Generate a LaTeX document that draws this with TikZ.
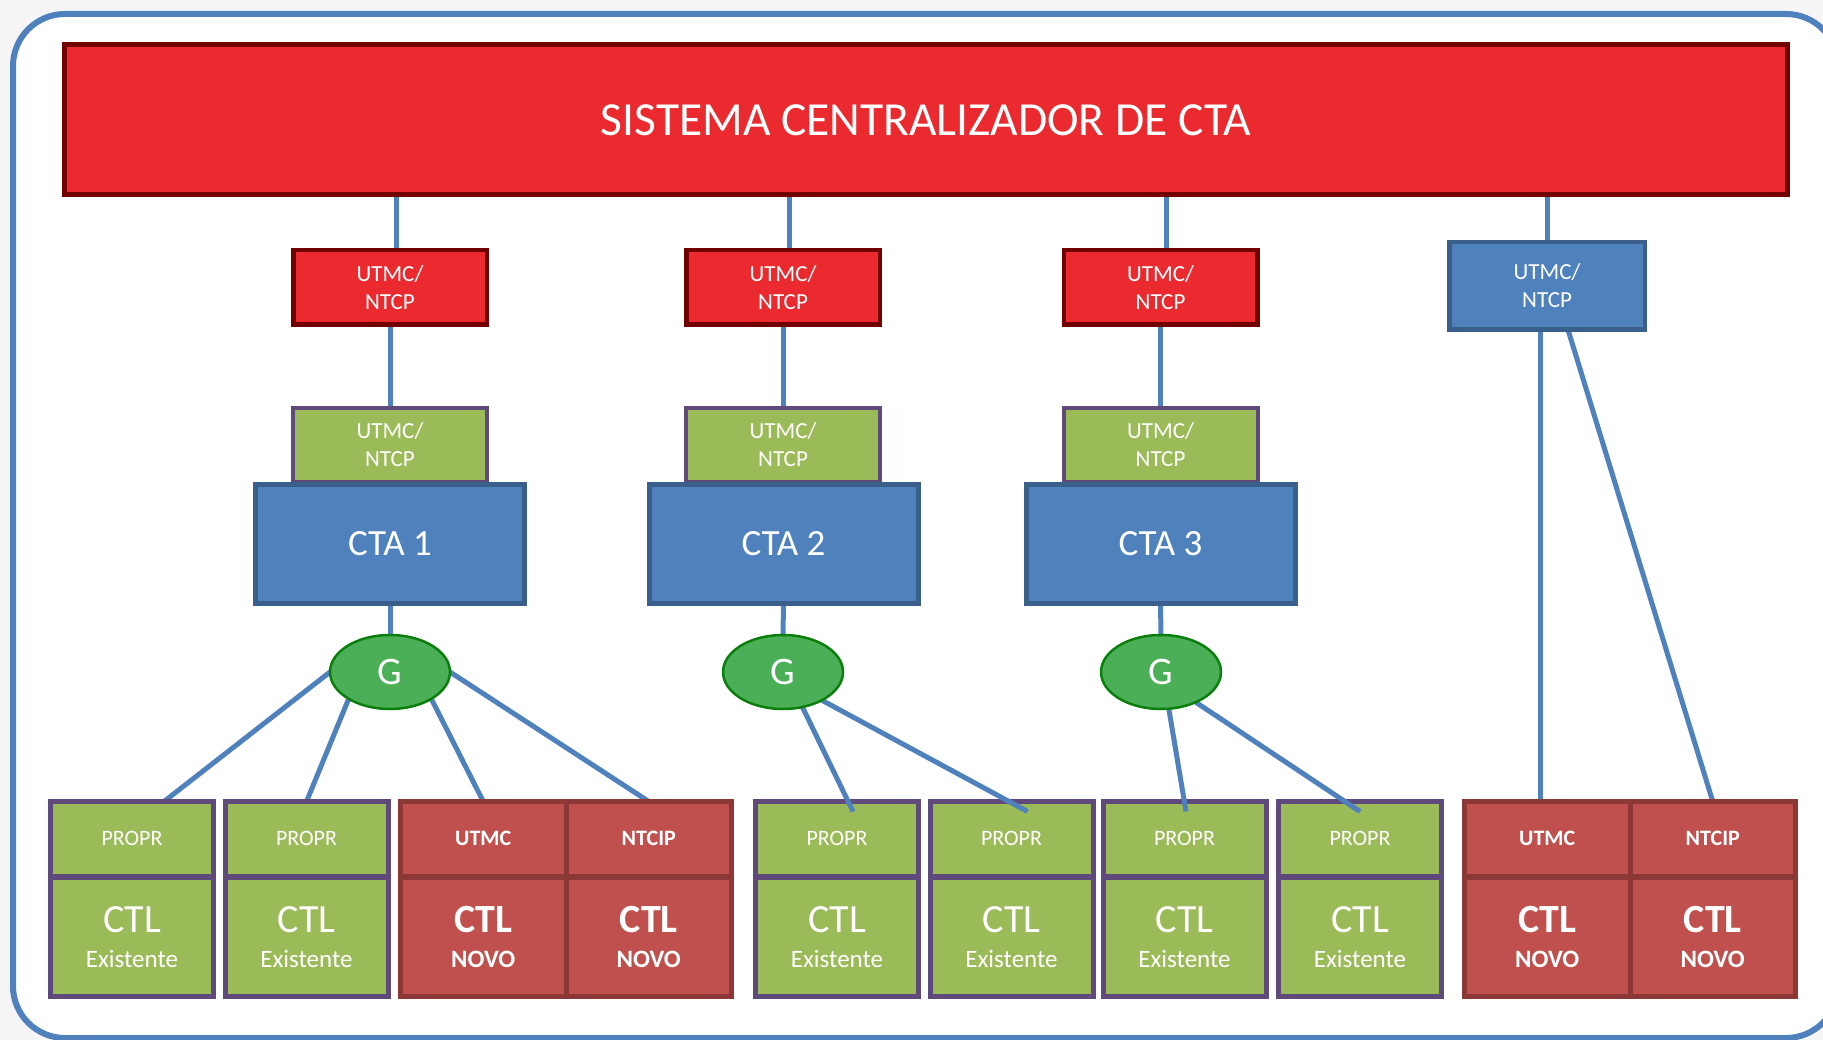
\documentclass[tikz,border=0pt]{standalone}
\usepackage{fontspec}
\setmainfont{Carlito}
\usetikzlibrary{shapes.geometric}
\definecolor{cTopRed}{HTML}{EA2A2F}
\definecolor{cTopRedD}{HTML}{720000}
\definecolor{cBlue}{HTML}{4F81BD}
\definecolor{cBlueD}{HTML}{3A5F8B}
\definecolor{cGreen}{HTML}{9BBB59}
\definecolor{cPurple}{HTML}{604A7B}
\definecolor{cRed}{HTML}{C0504D}
\definecolor{cRedD}{HTML}{8C3836}
\definecolor{cG}{HTML}{4BAF57}
\definecolor{cGD}{HTML}{0B7F0B}
\definecolor{cOut}{HTML}{F5F5F5}
\newcommand\myfs[2]{\fontsize{#1}{#2}\selectfont}
\pgfdeclarelayer{back}
\pgfdeclarelayer{bg}
\pgfdeclarelayer{front}
\pgfsetlayers{back,bg,main,front}
\begin{document}
\begin{tikzpicture}[x=1pt,y=-1pt,
  box/.style={draw, rectangle, inner sep=0pt, outer sep=0pt, text=white, align=center},
  topbox/.style={box, fill=cTopRed, draw=cTopRedD, line width=5pt, minimum width=1723pt, minimum height=150pt, font=\myfs{47.5}{56}},
  utmcR/.style={box, fill=cTopRed, draw=cTopRedD, line width=4.5pt, minimum width=193.5pt, minimum height=74.5pt, font=\myfs{23}{28}},
  utmcB/.style={box, fill=cBlue, draw=cBlueD, line width=4.5pt, minimum width=195.5pt, minimum height=87.5pt, font=\myfs{23}{28}},
  utmcG/.style={box, fill=cGreen, draw=cPurple, line width=4pt, minimum width=194pt, minimum height=74pt, font=\myfs{23}{28}},
  cta/.style={box, fill=cBlue, draw=cBlueD, line width=5pt, minimum width=269pt, minimum height=119pt, font=\myfs{37}{44}},
  gnode/.style={ellipse, draw=cGD, fill=cG, line width=2.5pt, minimum width=120pt, minimum height=74pt, inner sep=0pt, outer sep=0pt, text=white, font=\myfs{39}{44}},
  hdrG/.style={box, fill=cGreen, draw=cPurple, line width=5pt, minimum width=163pt, minimum height=74.5pt, font=\myfs{22}{26}},
  ctlG/.style={box, fill=cGreen, draw=cPurple, line width=5pt, minimum width=163pt, minimum height=119.5pt, font=\myfs{40}{35}},
  hdrR/.style={box, fill=cRed, draw=cRedD, line width=5pt, minimum width=165.5pt, minimum height=74.5pt, font=\myfs{22}{26}\bfseries},
  ctlR/.style={box, fill=cRed, draw=cRedD, line width=5pt, minimum width=165.5pt, minimum height=119.5pt, font=\myfs{40}{35}\bfseries},
  conn/.style={draw=cBlue, line width=5pt},
  frame/.style={draw=cBlue, line width=6pt, rounded corners=52pt, fill=white}
]
\useasboundingbox (0,0) rectangle (1823,1040);
\clip (0,0) rectangle (1823,1040);
\begin{pgfonlayer}{back}
\fill[cOut] (0,0) rectangle (1823,1040);
\path[frame] (13,14) rectangle (1838,1038);
\end{pgfonlayer}

% top system
\node[topbox] (top) at (926,120) {SISTEMA CENTRALIZADOR DE CTA};

% UTMC/NTCP interfaces
\node[utmcR] (u1) at (390,287.5) {UTMC/\\NTCP};
\node[utmcR] (u2) at (783,287.5) {UTMC/\\NTCP};
\node[utmcR] (u3) at (1160.5,287.5) {UTMC/\\NTCP};
\node[utmcB] (u4) at (1547,286) {UTMC/\\NTCP};

% green interface boxes and CTAs
\node[utmcG] (g1) at (390,445) {UTMC/\\NTCP};
\node[utmcG] (g2) at (783,445) {UTMC/\\NTCP};
\node[utmcG] (g3) at (1160.5,445) {UTMC/\\NTCP};
\node[cta] (cta1) at (390,544) {CTA 1};
\node[cta] (cta2) at (783.5,544) {CTA 2};
\node[cta] (cta3) at (1160.5,544) {CTA 3};

% G nodes
\begin{pgfonlayer}{front}
\node[gnode] (G1) at (390,672) {G};
\node[gnode] (G2) at (783,672) {G};
\node[gnode] (G3) at (1161,672) {G};
\end{pgfonlayer}

% bottom controllers
\node[hdrG] (c1t) at (132,838.75) {PROPR};
\node[ctlG] (c1b) at (132,937) {CTL\\{\myfs{25}{35}Existente}};
\node[hdrG] (c2t) at (306.5,838.75) {PROPR};
\node[ctlG] (c2b) at (306.5,937) {CTL\\{\myfs{25}{35}Existente}};
\node[hdrR] (r1at) at (483.25,838.75) {UTMC};
\node[ctlR] (r1ab) at (483.25,937) {CTL\\{\myfs{25}{35}\bfseries NOVO}};
\node[hdrR] (r1bt) at (648.75,838.75) {NTCIP};
\node[ctlR] (r1bb) at (648.75,937) {CTL\\{\myfs{25}{35}\bfseries NOVO}};

\node[hdrG] (c3t) at (837,838.75) {PROPR};
\node[ctlG] (c3b) at (837,937) {CTL\\{\myfs{25}{35}Existente}};
\node[hdrG] (c4t) at (1011.5,838.75) {PROPR};
\node[ctlG] (c4b) at (1011.5,937) {CTL\\{\myfs{25}{35}Existente}};

\node[hdrG] (c5t) at (1184.5,838.75) {PROPR};
\node[ctlG] (c5b) at (1184.5,937) {CTL\\{\myfs{25}{35}Existente}};
\node[hdrG] (c6t) at (1360,838.75) {PROPR};
\node[ctlG] (c6b) at (1360,937) {CTL\\{\myfs{25}{35}Existente}};

\node[hdrR] (r4at) at (1547.25,838.75) {UTMC};
\node[ctlR] (r4ab) at (1547.25,937) {CTL\\{\myfs{25}{35}\bfseries NOVO}};
\node[hdrR] (r4bt) at (1712.75,838.75) {NTCIP};
\node[ctlR] (r4bb) at (1712.75,937) {CTL\\{\myfs{25}{35}\bfseries NOVO}};

% helper coordinates
\coordinate (u1t) at ([xshift=6pt]u1.north);
\coordinate (u2t) at ([xshift=6pt]u2.north);
\coordinate (u3t) at ([xshift=6pt]u3.north);
\coordinate (u4l) at ([xshift=-7pt]u4.south);
\coordinate (u4r) at ([xshift=21pt]u4.south);

% connectors behind boxes
\begin{pgfonlayer}{bg}
\draw[conn] (u1t) -- (u1t |- top.south);
\draw[conn] (u2t) -- (u2t |- top.south);
\draw[conn] (u3t) -- (u3t |- top.south);
\draw[conn] (u4.north) -- (u4.north |- top.south);
\draw[conn] (u1.south) -- (g1.north);
\draw[conn] (u2.south) -- (g2.north);
\draw[conn] (u3.south) -- (g3.north);
\draw[conn] (cta1.south) -- (G1.north);
\draw[conn] (cta2.south) -- (G2.north);
\draw[conn] (cta3.south) -- (G3.north);
\draw[conn] (G1.west) -- ([xshift=32pt]c1t.north);
\draw[conn] (G1.213) -- (c2t.north);
\draw[conn] (G1.327) -- (r1at.north);
\draw[conn] (G1.east) -- (r1bt.north);
\draw[conn] (u4l) -- (u4l |- r4at.north);
\draw[conn] (u4r) -- (r4bt.north);
\end{pgfonlayer}

% connectors over the controller boxes
\draw[conn] (G2.299) -- ([xshift=16pt,yshift=-10pt]c3t.north);
\draw[conn] (G2.324) -- ([xshift=16pt,yshift=-10pt]c4t.north);
\draw[conn] (G3.282) -- ([xshift=1.5pt,yshift=-10pt]c5t.north);
\draw[conn] (G3.319) -- ([yshift=-10pt]c6t.north);
\end{tikzpicture}
\end{document}
